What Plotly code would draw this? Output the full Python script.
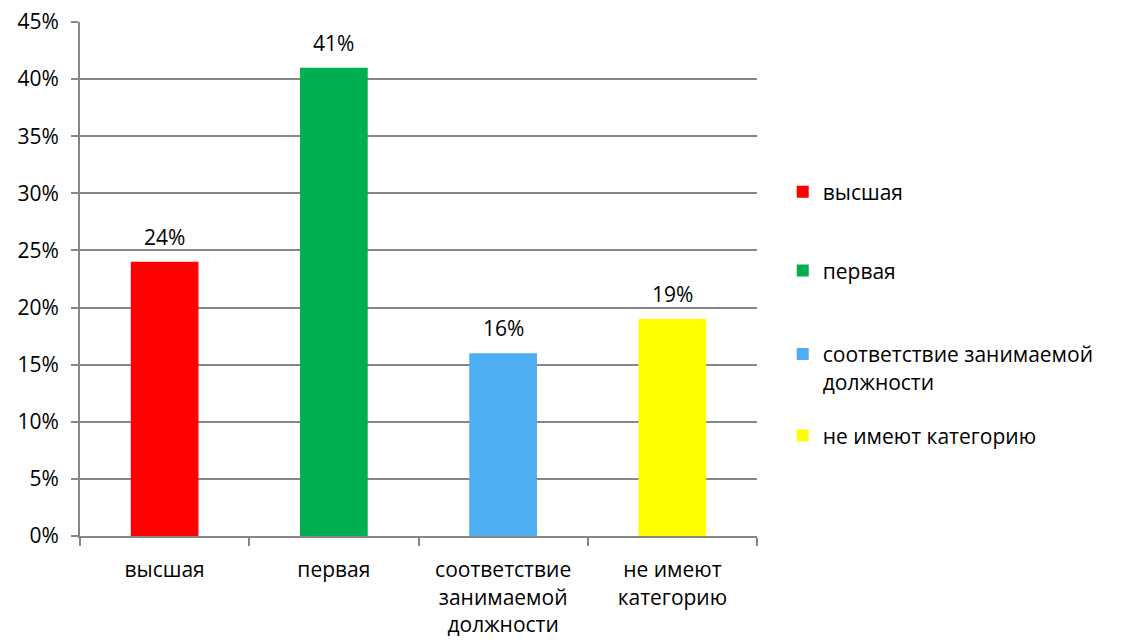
import plotly.graph_objects as go

categories = ["высшая", "первая", "соответствие<br>занимаемой<br>должности", "не имеют<br>категорию"]
legend_names = ["высшая", "первая", "соответствие занимаемой<br>должности", "не имеют категорию"]
values = [0.24, 0.41, 0.16, 0.19]
colors = ["#FF0000", "#00B050", "#4FADF2", "#FFFF00"]
y_ticks = [0, 0.05, 0.10, 0.15, 0.20, 0.25, 0.30, 0.35, 0.40, 0.45]

FONT = "Open Sans, Noto Sans, sans-serif"
FS = 21

# legend vertical positions (paper coords) for each item
legend_y = [0.669, 0.516, 0.327, 0.195]
legend_ids = ["legend", "legend2", "legend3", "legend4"]

fig = go.Figure()
for i in range(len(categories)):
    fig.add_trace(go.Bar(
        x=[categories[i]], y=[values[i]], name=legend_names[i],
        marker=dict(color=colors[i], line=dict(width=0)),
        width=0.4, legend=legend_ids[i],
    ))
    fig.add_annotation(
        x=categories[i], y=values[i], text=f"{round(values[i]*100)}%",
        showarrow=False, yanchor="bottom", yshift=9,
        font=dict(size=FS, color="black", family=FONT),
    )

layout_legends = {}
for i, lid in enumerate(legend_ids):
    layout_legends[lid] = dict(
        x=1.038, xanchor="left", y=legend_y[i], yanchor="middle",
        font=dict(size=FS, family=FONT, color="black"), itemwidth=30,
        bgcolor="rgba(0,0,0,0)", valign="top",
    )

fig.update_layout(
    width=1113, height=636,
    margin=dict(l=72, r=364, t=14, b=108),
    paper_bgcolor="white", plot_bgcolor="white",
    barmode="overlay",
    font=dict(family=FONT, size=FS, color="black"),
    showlegend=True,
    **layout_legends,
)
fig.update_xaxes(
    categoryorder="array", categoryarray=categories,
    showline=True, linecolor="#868686", linewidth=2,
    ticks="outside", tickson="boundaries", ticklen=8, tickcolor="#868686", tickwidth=2,
    showgrid=False, tickfont=dict(size=FS, family=FONT), ticklabelstandoff=14,
    automargin=False,
)
fig.update_yaxes(
    range=[0, 0.45], tickvals=y_ticks, tickformat=".0%",
    showline=True, linecolor="#868686", linewidth=2,
    ticks="outside", ticklen=7, tickcolor="#868686", tickwidth=2,
    showgrid=True, gridcolor="#868686", gridwidth=1.5,
    zeroline=False, tickfont=dict(size=FS, family=FONT), ticklabelstandoff=8,
    automargin=False, ticklabeloverflow="allow",
)

fig.write_html("out.html")
